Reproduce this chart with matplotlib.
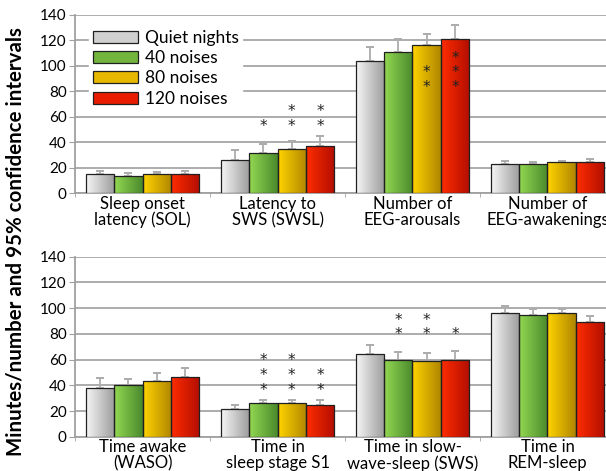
import numpy as np
import matplotlib
matplotlib.use("Agg")
import matplotlib.pyplot as plt
from matplotlib.colors import LinearSegmentedColormap
from matplotlib.patches import Patch

plt.rcParams['font.family'] = ['Lato', 'DejaVu Sans']

series = ['Quiet nights', '40 noises', '80 noises', '120 noises']

top_labels = ['Sleep onset\nlatency (SOL)', 'Latency to\nSWS (SWSL)',
              'Number of\nEEG-arousals', 'Number of\nEEG-awakenings']
top_means = [[15.2, 26.0, 103.6, 22.8],
             [13.6, 31.4, 111.2, 23.0],
             [15.0, 34.5, 116.2, 24.3],
             [15.0, 36.9, 121.1, 24.3]]
top_upper = [[17.7, 34.0, 114.6, 25.4],
             [16.2, 39.0, 121.0, 24.8],
             [17.0, 41.3, 125.3, 25.4],
             [17.7, 44.7, 131.9, 27.2]]
top_stars = [[0, 0, 0, 0],
             [0, 1, 0, 0],
             [0, 2, 2, 0],
             [0, 2, 3, 0]]

bot_labels = ['Time awake\n(WASO)', 'Time in\nsleep stage S1',
              'Time in slow-\nwave-sleep (SWS)', 'Time in\nREM-sleep']
bot_means = [[38.1, 21.5, 64.1, 96.0],
             [40.0, 25.9, 59.6, 94.6],
             [43.3, 25.9, 58.6, 96.0],
             [46.4, 24.6, 59.4, 88.9]]
bot_upper = [[45.9, 24.6, 71.3, 101.6],
             [45.1, 28.3, 66.1, 99.0],
             [49.3, 28.3, 64.8, 99.0],
             [53.2, 28.3, 66.9, 93.9]]
bot_stars = [[0, 0, 0, 0],
             [0, 3, 2, 0],
             [0, 3, 2, 0],
             [0, 2, 1, 0]]

# gradient colours (left -> right) for each series
grads = [('#f6f6f6', '#9c9c9c'),
         ('#93d852', '#4a8a2c'),
         ('#ffd400', '#b08600'),
         ('#ff2d00', '#b20e00')]
mids = ['#d0d0d0', '#72b43e', '#e6b800', '#e81c00']

fig = plt.figure(figsize=(6.06, 4.71), dpi=100)
ax_top = fig.add_axes([0.1238, 0.5896, 0.891, 0.3786])
ax_bot = fig.add_axes([0.1238, 0.0728, 0.891, 0.382])

bw = 0.21
grad_img = np.linspace(0, 1, 64).reshape(1, -1)


def draw_panel(ax, labels, means, upper, stars, inside=None):
    n = len(labels)
    x = np.arange(n)
    for i in range(len(series)):
        xs = x + (i - 1.5) * bw
        bars = ax.bar(xs, means[i], width=bw, color=mids[i], edgecolor='#202020',
                      linewidth=0.9, zorder=3, label=series[i])
        cmap = LinearSegmentedColormap.from_list('g%d' % i, grads[i])
        for b in bars:
            x0, y0 = b.get_x(), b.get_y()
            im = ax.imshow(grad_img, cmap=cmap, aspect='auto', zorder=3.5,
                           extent=[x0, x0 + b.get_width(), y0, y0 + b.get_height()])
            im.set_clip_path(b)
            b.set_facecolor('none')
            b.set_zorder(4)
        err = np.array(upper[i]) - np.array(means[i])
        ax.errorbar(xs, upper[i], yerr=[err, np.zeros(n)], fmt='none',
                    ecolor='#adadad', elinewidth=1.3, capsize=3, capthick=1.3,
                    zorder=2.5)
        ax.errorbar(xs, upper[i], yerr=[np.zeros(n), np.zeros(n)], fmt='none',
                    ecolor='#adadad', elinewidth=1.3, capsize=3, capthick=1.3,
                    zorder=2.5)
    # significance stars
    for j in range(n):
        if inside is not None and inside[j]:
            base = 83.2
        else:
            base = max(upper[i][j] for i in range(len(series))) + 8
        for i in range(len(series)):
            for k in range(stars[i][j]):
                ax.text(x[j] + (i - 1.5) * bw, base + k * 11.5, '*',
                        ha='center', va='center', fontsize=11,
                        color='#222222', zorder=6, family='DejaVu Sans')
    ax.set_xlim(-0.5, 3.5)
    ax.set_ylim(0, 140)
    ax.set_yticks(range(0, 141, 20))
    ax.yaxis.grid(True, color='#a6a6a6', linewidth=1.3, zorder=0)
    ax.set_axisbelow(True)
    ax.set_xticks(x)
    ax.set_xticklabels(labels, fontsize=12, linespacing=0.98)
    ax.set_xticks([-0.5, 0.5, 1.5, 2.5], minor=True)
    ax.tick_params(axis='x', which='major', length=0, pad=2)
    ax.tick_params(axis='x', which='minor', length=3, color='#a0a0a0')
    ax.tick_params(axis='y', length=4, color='#a0a0a0', labelsize=11, pad=2)
    for s in ['top', 'right']:
        ax.spines[s].set_visible(False)
    for s in ['left', 'bottom']:
        ax.spines[s].set_color('#a0a0a0')
        ax.spines[s].set_linewidth(1.3)


draw_panel(ax_top, top_labels, top_means, top_upper, top_stars,
           inside=[False, False, True, False])
draw_panel(ax_bot, bot_labels, bot_means, bot_upper, bot_stars)

handles = [Patch(facecolor=mids[i], edgecolor='#202020', linewidth=0.9)
           for i in range(len(series))]
leg = ax_top.legend(handles, series, loc='upper left', bbox_to_anchor=(0.01, 0.985),
                    frameon=True, fancybox=False, framealpha=1, edgecolor='white',
                    fontsize=12.5, handlelength=2.6, handleheight=0.7,
                    handletextpad=0.4, labelspacing=0.25, borderpad=0.2)
leg.set_zorder(10)

fig.text(0.025, 0.488, 'Minutes/number and 95% confidence intervals', rotation=90,
         ha='center', va='center', fontsize=14.8, fontweight='bold')

fig.savefig('out.png', dpi=100)
